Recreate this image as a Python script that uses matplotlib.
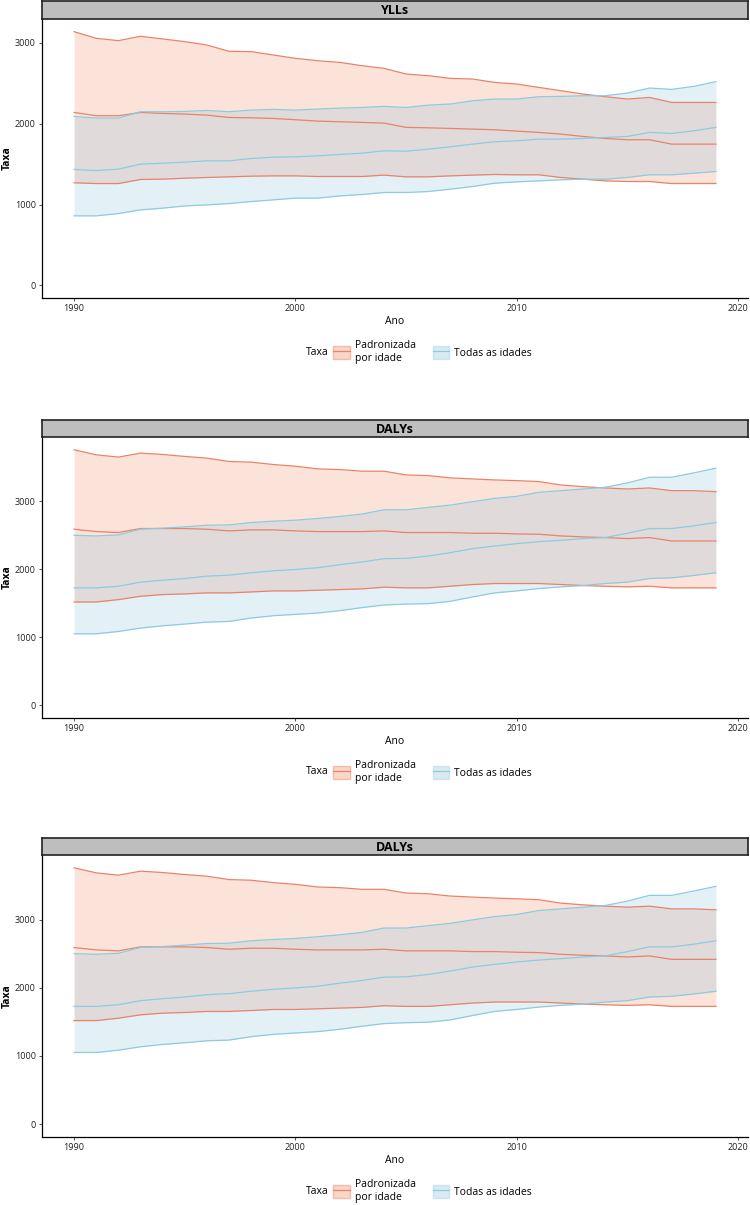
import matplotlib
matplotlib.use('Agg')
import matplotlib.pyplot as plt
import matplotlib.patches as patches
from matplotlib.lines import Line2D
from matplotlib.legend_handler import HandlerTuple

plt.rcParams['font.family'] = ['Open Sans', 'DejaVu Sans']

years = list(range(1990, 2020))

# YLLs - taxa padronizada por idade (upper / mean / lower)
ylls_pad_up = [3140, 3058, 3029, 3083, 3050, 3017, 2975, 2897, 2893, 2851,
               2810, 2781, 2760, 2719, 2686, 2616, 2595, 2562, 2554, 2512,
               2492, 2450, 2409, 2368, 2335, 2306, 2326, 2264, 2264, 2264]
ylls_pad_mid = [2140, 2099, 2099, 2140, 2128, 2120, 2107, 2078, 2074, 2066,
                2050, 2033, 2025, 2017, 2008, 1955, 1950, 1942, 1934, 1926,
                1909, 1893, 1872, 1843, 1818, 1802, 1802, 1748, 1748, 1748]
ylls_pad_low = [1269, 1260, 1260, 1310, 1314, 1326, 1335, 1343, 1351, 1355,
                1355, 1347, 1347, 1347, 1364, 1343, 1343, 1355, 1364, 1372,
                1368, 1368, 1335, 1314, 1293, 1285, 1285, 1260, 1260, 1260]
# YLLs - todas as idades
ylls_all_up = [2091, 2070, 2070, 2149, 2149, 2153, 2165, 2149, 2169, 2178,
               2169, 2182, 2194, 2202, 2215, 2202, 2231, 2244, 2285, 2306,
               2306, 2335, 2339, 2347, 2347, 2380, 2442, 2426, 2463, 2521]
ylls_all_mid = [1434, 1421, 1438, 1500, 1512, 1525, 1541, 1541, 1570, 1587,
                1591, 1603, 1620, 1636, 1665, 1660, 1686, 1715, 1748, 1777,
                1789, 1810, 1810, 1818, 1831, 1843, 1893, 1880, 1913, 1955]
ylls_all_low = [860, 860, 888, 934, 955, 983, 996, 1012, 1037, 1058,
                1079, 1079, 1107, 1124, 1149, 1149, 1161, 1190, 1223, 1264,
                1281, 1293, 1306, 1314, 1314, 1335, 1368, 1368, 1388, 1409]

# DALYs - taxa padronizada por idade
dalys_pad_up = [3759, 3685, 3651, 3710, 3690, 3661, 3636, 3587, 3577, 3542,
                3517, 3478, 3468, 3444, 3444, 3389, 3379, 3345, 3330, 3315,
                3305, 3291, 3241, 3216, 3197, 3182, 3197, 3157, 3157, 3143]
dalys_pad_mid = [2590, 2555, 2541, 2600, 2600, 2600, 2590, 2565, 2580, 2580,
                 2565, 2555, 2555, 2555, 2565, 2541, 2541, 2541, 2531, 2531,
                 2521, 2516, 2491, 2477, 2467, 2452, 2467, 2417, 2417, 2417]
dalys_pad_low = [1519, 1519, 1554, 1603, 1628, 1638, 1653, 1653, 1667, 1682,
                 1682, 1692, 1702, 1712, 1737, 1727, 1727, 1751, 1776, 1791,
                 1791, 1791, 1776, 1761, 1751, 1742, 1751, 1727, 1727, 1727]
# DALYs - todas as idades
dalys_all_up = [2501, 2491, 2506, 2590, 2605, 2625, 2649, 2654, 2689, 2708,
                2723, 2748, 2777, 2812, 2876, 2876, 2911, 2945, 2995, 3044,
                3074, 3133, 3157, 3182, 3207, 3271, 3355, 3355, 3419, 3488]
dalys_all_mid = [1727, 1727, 1751, 1811, 1840, 1865, 1899, 1914, 1949, 1978,
                 1998, 2023, 2067, 2107, 2156, 2161, 2195, 2245, 2304, 2343,
                 2378, 2407, 2427, 2452, 2467, 2531, 2600, 2600, 2639, 2689]
dalys_all_low = [1051, 1051, 1085, 1135, 1169, 1194, 1223, 1233, 1283, 1317,
                 1337, 1357, 1391, 1436, 1475, 1488, 1495, 1529, 1593, 1653,
                 1682, 1717, 1742, 1761, 1791, 1811, 1865, 1875, 1909, 1949]

panel_titles = ['YLLs', 'DALYs', 'DALYs']
panel_data = [
    (ylls_pad_up, ylls_pad_mid, ylls_pad_low, ylls_all_up, ylls_all_mid, ylls_all_low),
    (dalys_pad_up, dalys_pad_mid, dalys_pad_low, dalys_all_up, dalys_all_mid, dalys_all_low),
    (dalys_pad_up, dalys_pad_mid, dalys_pad_low, dalys_all_up, dalys_all_mid, dalys_all_low),
]
legend_labels = ['Padronizada\npor idade', 'Todas as idades']

ORANGE_FILL = '#F4A582'
ORANGE_LINE = '#E8836A'
BLUE_FILL = '#92C5DE'
BLUE_LINE = '#8CCBE0'

W, H = 750, 1205
fig = plt.figure(figsize=(W / 100, H / 100), dpi=100)

# pixel layout: (strip top, axes top, axes bottom)
layout = [(1, 19, 298), (420, 437, 718), (838, 855, 1137)]
left_px, right_px = 42, 748


def fy(px):
    return 1 - px / H


for (title, data), (s_top, a_top, a_bot) in zip(zip(panel_titles, panel_data), layout):
    pad_up, pad_mid, pad_low, all_up, all_mid, all_low = data
    ax = fig.add_axes([left_px / W, fy(a_bot), (right_px - left_px) / W, (a_bot - a_top) / H])

    ax.fill_between(years, pad_low, pad_up, color=ORANGE_FILL, alpha=0.3, linewidth=0)
    ax.fill_between(years, all_low, all_up, color=BLUE_FILL, alpha=0.25, linewidth=0)
    for s in (pad_up, pad_mid, pad_low):
        ax.plot(years, s, color=ORANGE_LINE, linewidth=0.9)
    for s in (all_up, all_mid, all_low):
        ax.plot(years, s, color=BLUE_LINE, linewidth=0.9)

    ymax = max(pad_up + all_up)
    ax.set_ylim(-0.05 * ymax, 1.05 * ymax)
    ax.set_xlim(1990 - 0.05 * 29, 2019 + 0.05 * 29)
    ax.set_xticks([1990, 2000, 2010, 2020])
    ax.set_yticks(range(0, int(ymax) + 1, 1000))
    ax.tick_params(labelsize=6.5, length=2.5, width=0.6, colors='#333333', pad=2)
    ax.tick_params(labelcolor='#222222')
    for side in ('top', 'right'):
        ax.spines[side].set_visible(False)
    for side in ('left', 'bottom'):
        ax.spines[side].set_linewidth(0.9)
    ax.set_ylabel('Taxa', fontsize=7.5, fontweight='bold')
    ax.yaxis.set_label_coords(-(left_px - 13) / (right_px - left_px), 0.5)
    ax.set_xlabel('Ano', fontsize=7.5, labelpad=2)

    # facet strip
    sax = fig.add_axes([left_px / W, fy(a_top), (right_px - left_px) / W, (a_top - s_top) / H])
    sax.set_facecolor('#BEBEBE')
    sax.set_xticks([])
    sax.set_yticks([])
    for sp in sax.spines.values():
        sp.set_linewidth(1.2)
        sp.set_color('#222222')
    sax.text(0.5, 0.45, title, ha='center', va='center', fontsize=9,
             fontweight='bold', transform=sax.transAxes)

    # legend
    leg_y = fy(a_bot + 54)
    fig.text(329 / W, leg_y, 'Taxa', ha='right', va='center', fontsize=7.5)
    handles = [
        (patches.Patch(facecolor=ORANGE_FILL, alpha=0.45, edgecolor=ORANGE_LINE),
         Line2D([], [], color=ORANGE_LINE, linewidth=0.9)),
        (patches.Patch(facecolor=BLUE_FILL, alpha=0.35, edgecolor=BLUE_LINE),
         Line2D([], [], color=BLUE_LINE, linewidth=0.9)),
    ]
    fig.legend(handles, legend_labels, loc='center left', bbox_to_anchor=(333 / W, leg_y),
               ncol=2, frameon=False, fontsize=7.5, handlelength=1.6, handleheight=1.6,
               handletextpad=0.5, columnspacing=1.6, borderpad=0, borderaxespad=0,
               handler_map={tuple: HandlerTuple(ndivide=1, pad=0)})

fig.savefig('out.png', dpi=100)
